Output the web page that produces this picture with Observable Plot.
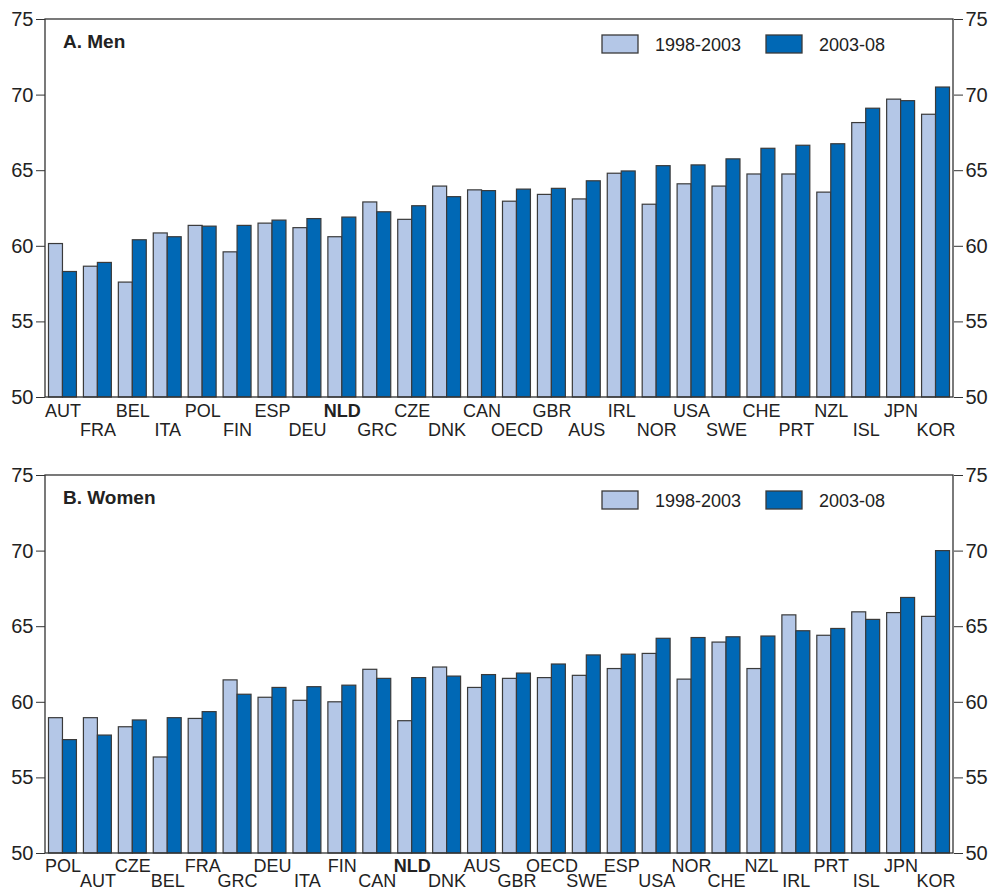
<!DOCTYPE html>
<html>
<head>
<meta charset="utf-8">
<script src="https://cdn.jsdelivr.net/npm/d3@7"></script>
<script src="https://cdn.jsdelivr.net/npm/@observablehq/plot@0.6"></script>
<style>
  body { margin: 0; background: #fff; font-family: "Liberation Sans", Arial, sans-serif; }
  #chart svg { display: block; }
</style>
</head>
<body>
<div id="chart"></div>
<script>
// ---- data ----
const periods = ["1998-2003", "2003-08"];
const colors = ["#b4c7e7", "#0068b5"];
const yTicks = [50, 55, 60, 65, 70, 75];
const yDomain = [50, 75];

const menCountries = ["AUT","FRA","BEL","ITA","POL","FIN","ESP","DEU","NLD","GRC","CZE","DNK","CAN","OECD","GBR","AUS","IRL","NOR","USA","SWE","CHE","PRT","NZL","ISL","JPN","KOR"];
const menEarly = [60.15,58.65,57.6,60.85,61.35,59.6,61.5,61.2,60.6,62.9,61.75,63.95,63.7,62.95,63.4,63.1,64.8,62.75,64.1,63.95,64.75,64.75,63.55,68.15,69.7,68.7];
const menLate  = [58.3,58.9,60.4,60.6,61.3,61.35,61.7,61.8,61.9,62.25,62.65,63.25,63.65,63.75,63.8,64.3,64.95,65.3,65.35,65.75,66.45,66.65,66.75,69.1,69.6,70.5];

const womenCountries = ["POL","AUT","CZE","BEL","FRA","GRC","DEU","ITA","FIN","CAN","NLD","DNK","AUS","GBR","OECD","SWE","ESP","USA","NOR","CHE","NZL","IRL","PRT","ISL","JPN","KOR"];
const womenEarly = [58.95,58.95,58.35,56.35,58.9,61.45,60.3,60.1,60.0,62.15,58.75,62.3,60.95,61.55,61.6,61.75,62.2,63.2,61.5,63.95,62.2,65.75,64.4,65.95,65.9,65.65];
const womenLate  = [57.5,57.8,58.8,58.95,59.35,60.5,60.95,61.0,61.1,61.55,61.6,61.7,61.8,61.9,62.5,63.1,63.15,64.2,64.25,64.3,64.35,64.7,64.85,65.45,66.9,70.0];

const highlight = "NLD";
const FONT = "'Liberation Sans', Arial, Helvetica, sans-serif";
const W = 992, ML = 45, MR = 39;

function panel(title, countries, early, late, opts) {
  const data = countries.flatMap((c, i) => [
    {country: c, period: periods[0], value: early[i]},
    {country: c, period: periods[1], value: late[i]}
  ]);
  const row1 = countries.filter((d, i) => i % 2 === 0 && d !== highlight);
  const row2 = countries.filter((d, i) => i % 2 === 1 && d !== highlight);
  const hiIdx = countries.indexOf(highlight);
  const hiRow = hiIdx % 2 === 0 ? opts.dy1 : opts.dy2;

  const labelOpts = {fx: d => d, text: d => d, frameAnchor: "bottom", lineAnchor: "top", fontSize: 18, fill: "#222"};

  const plot = Plot.plot({
    width: W,
    height: opts.height,
    marginLeft: ML,
    marginRight: MR,
    marginTop: opts.top,
    marginBottom: opts.bottom,
    style: {fontFamily: FONT, fontSize: "18px", color: "#222", background: "#fff"},
    fx: {domain: countries, paddingInner: 0, paddingOuter: 0, round: false, axis: null, label: null},
    x: {domain: periods, paddingInner: 0, paddingOuter: 0.25, round: false, axis: null},
    y: {domain: yDomain, axis: null},
    color: {domain: periods, range: colors},
    marks: [
      Plot.barY(data, {fx: "country", x: "period", y1: 50, y2: "value", fill: "period", stroke: "#3a3a3a", strokeWidth: 1.2}),
      Plot.axisY({anchor: "left", ticks: yTicks, tickSize: 9, tickPadding: 3, label: null, fontSize: 20, stroke: "#333"}),
      Plot.axisY({anchor: "right", ticks: yTicks, tickSize: 9, tickPadding: 3, label: null, fontSize: 20, stroke: "#333"}),
      Plot.text(row1, {...labelOpts, dy: opts.dy1}),
      Plot.text(row2, {...labelOpts, dy: opts.dy2}),
      Plot.text([highlight], {...labelOpts, dy: hiRow, fontWeight: "bold"})
    ]
  });

  // frame around the plotting area, vertical extent from the plot's y scale
  const svg = d3.select(plot);
  const yS = plot.scale("y");
  const x0 = ML, x1 = W - MR;
  const yTop = yS.apply(75), yBot = yS.apply(50);
  svg.append("rect")
    .attr("x", x0).attr("y", yTop)
    .attr("width", x1 - x0).attr("height", yBot - yTop)
    .attr("fill", "none").attr("stroke", "#333").attr("stroke-width", 1.3);

  // panel title
  svg.append("text")
    .attr("x", x0 + 18).attr("y", yTop + 29)
    .attr("text-anchor", "start")
    .attr("font-family", FONT).attr("font-size", 19).attr("font-weight", "bold").attr("fill", "#222")
    .text(title);

  // legend
  const lg = svg.append("g").attr("font-family", FONT).attr("font-size", 18).attr("fill", "#222").attr("text-anchor", "start");
  const items = [{label: periods[0], color: colors[0], x: x1 - 351}, {label: periods[1], color: colors[1], x: x1 - 187}];
  for (const it of items) {
    lg.append("rect").attr("x", it.x).attr("y", yTop + 16).attr("width", 36).attr("height", 18)
      .attr("fill", it.color).attr("stroke", "#3a3a3a").attr("stroke-width", 1.3);
    lg.append("text").attr("x", it.x + 53).attr("y", yTop + 32).text(it.label);
  }
  return plot;
}

const chart = document.getElementById("chart");
chart.appendChild(panel("A. Men", menCountries, menEarly, menLate, {height: 450, top: 19, bottom: 53, dy1: 7, dy2: 26}));
chart.appendChild(panel("B. Women", womenCountries, womenEarly, womenLate, {height: 442, top: 25, bottom: 39, dy1: 6, dy2: 21}));
</script>
</body>
</html>
